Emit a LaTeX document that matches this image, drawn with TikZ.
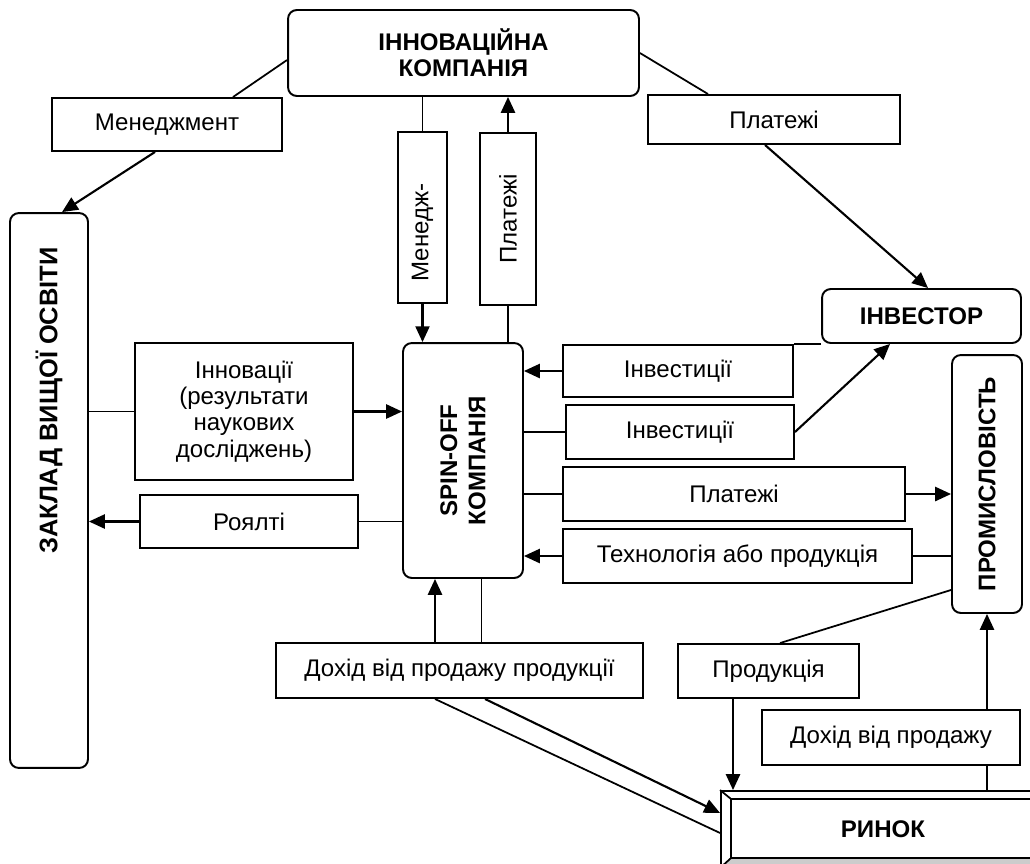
\documentclass[tikz,border=0pt]{standalone}
\usepackage{fontspec}
\setmainfont{Liberation Sans}
\usetikzlibrary{arrows.meta}

\begin{document}
\begin{tikzpicture}[x=0.02cm,y=-0.02cm]

\tikzset{Box/.style={draw,line width=1.1pt,inner sep=2pt,align=center,font=\fontsize{13.7}{15}\selectfont},
RBox/.style={Box,rounded corners=5pt,font=\fontsize{13.7}{15}\selectfont\bfseries},
VText/.style={rotate=90,align=center,font=\fontsize{13.7}{15}\selectfont},
VBold/.style={VText,font=\fontsize{13.7}{16}\selectfont\bfseries},
Line/.style={line width=1pt},
Arrow/.style={line width=1.2pt,-{Triangle[length=9pt,width=8pt]}}}

\useasboundingbox (0,0) rectangle (1030,863);
\clip (0,0) rectangle (1030,863);

\node[RBox,minimum width=7.02cm,minimum height=1.72cm] (IK) at (463.5,53) {ІННОВАЦІЙНА\\КОМПАНІЯ};
\node[Box,minimum width=4.6cm,minimum height=1.06cm] (MEN) at (167,124.5) {Менеджмент};
\node[RBox,minimum width=1.56cm,minimum height=11.1cm,label={[yshift=1.8cm,VBold,font=\fontsize{14.5}{16}\selectfont\bfseries]center:ЗАКЛАД ВИЩОЇ ОСВІТИ}] (ZVO) at (49,490.5) {};
\node[Box,minimum width=0.98cm,minimum height=3.42cm,label={[yshift=-0.3cm,VText]center:Менедж-}] (MENV) at (422.5,217.5) {};
\node[Box,minimum width=1.12cm,minimum height=3.44cm,label={[VText]center:Платежі}] (PLV) at (508,219) {};
\node[Box,minimum width=5.04cm,minimum height=0.98cm] (PLR) at (774,119.5) {Платежі};
\node[RBox,minimum width=3.98cm,minimum height=1.08cm] (INV) at (921.5,316) {ІНВЕСТОР};
\node[RBox,minimum width=2.4cm,minimum height=4.7cm,label={[VBold]center:SPIN-OFF\\КОМПАНІЯ}] (SO) at (463,460.5) {};
\node[Box,minimum width=4.6cm,minimum height=1.04cm] (INV_1) at (678,371) {Інвестиції};
\node[Box,minimum width=4.56cm,minimum height=1.08cm] (INV_2) at (680,432) {Інвестиції};
\node[Box,minimum width=6.84cm,minimum height=1.08cm] (PL) at (734,494) {Платежі};
\node[Box,minimum width=6.98cm,minimum height=1.08cm] (TECH) at (737.5,556) {Технологія або продукція};
\node[RBox,minimum width=1.4cm,minimum height=5.16cm,label={[VBold]center:ПРОМИСЛОВІСТЬ}] (PROM) at (987,484) {};
\node[Box,minimum width=4.36cm,minimum height=2.74cm] (INN) at (244,411.5) {Інновації\\(результати\\наукових\\досліджень)};
\node[Box,minimum width=4.36cm,minimum height=1.06cm] (ROY) at (249,521.5) {Роялті};
\node[Box,minimum width=7.34cm,minimum height=1.1cm] (DPP) at (459.5,670.5) {Дохід від продажу продукції};
\node[Box,minimum width=3.62cm,minimum height=1.08cm] (PROD) at (768.5,671) {Продукція};
\node[Box,minimum width=5.16cm,minimum height=1.1cm] (DP) at (891,737.5) {Дохід від продажу};
\node[Box,font=\fontsize{13.7}{15}\selectfont\bfseries,minimum width=6.48cm,minimum height=1.52cm] (RYN) at (883,829) {РИНОК};

\draw[Line,fill=gray!40] (RYN.south west) -- ([shift={(0.22cm,0.2cm)}]RYN.south west) -- ([shift={(-0.22cm,0.2cm)}]RYN.south east) -- (RYN.south east) -- cycle;
\draw[Line] ([shift={(0.22cm,-0.18cm)}]RYN.north west) rectangle ([shift={(-0.22cm,0.2cm)}]RYN.south east);
\draw[Line] (RYN.north west) -- ([shift={(0.22cm,-0.18cm)}]RYN.north west);

\draw[Line] ([yshift=-0.14cm]IK.west) -- ([xshift=1.32cm]MEN.north);
\draw[Arrow] ([xshift=-0.24cm]MEN.south) -- ([xshift=0.26cm]ZVO.north);
\draw[Line] (MENV.north) -- (MENV.north |- IK.south);
\draw[Arrow] (MENV.south) -- (MENV.south |- SO.north);
\draw[Arrow] (PLV.north) -- (PLV.north |- IK.south);
\draw[Line] (PLV.south) -- (PLV.south |- SO.north);
\draw[Line] (IK.east) -- ([xshift=-1.32cm]PLR.north);
\draw[Arrow] ([xshift=-0.18cm]PLR.south) -- ([xshift=0.13cm]INV.north);
\draw[Arrow] (INV_1.west) -- (INV_1.west -| SO.east);
\draw[Line] (INV.south west) -- (INV.south west -| INV_1.east);
\draw[Line] (INV_2.west) -- (INV_2.west -| SO.east);
\draw[Arrow] (INV_2.east) -- ([xshift=-0.63cm]INV.south);
\draw[Line] (PL.west) -- (PL.west -| SO.east);
\draw[Arrow] (PL.east) -- (PL.east -| PROM.west);
\draw[Line] (TECH.east) -- (TECH.east -| PROM.west);
\draw[Arrow] (TECH.west) -- (TECH.west -| SO.east);
\draw[Line] (INN.west) -- (INN.west -| ZVO.east);
\draw[Arrow] (INN.east) -- (INN.east -| SO.west);
\draw[Line] (ROY.east) -- (ROY.east -| SO.west);
\draw[Arrow] (ROY.west) -- (ROY.west -| ZVO.east);
\draw[Arrow] ([xshift=-0.49cm]DPP.north) -- ([xshift=-0.49cm]DPP.north |- SO.south);
\draw[Line] ([xshift=0.44cm]DPP.north) -- ([xshift=0.44cm]DPP.north |- SO.south);
\draw[Line] ([xshift=-0.49cm]DPP.south) -- ([yshift=-0.08cm]RYN.west);
\draw[Arrow] ([xshift=0.51cm]DPP.south) -- ([yshift=0.32cm]RYN.west);
\draw[Line] ([yshift=-2.12cm]PROM.west) -- ([xshift=0.23cm]PROD.north);
\draw[Arrow] ([xshift=-0.71cm]PROD.south) -- ([xshift=-0.71cm]PROD.south |- RYN.north);
\draw[Arrow] (DP.north -| PROM.south) -- (PROM.south);
\draw[Line] (RYN.north -| PROM.south) -- (DP.south -| PROM.south);

\end{tikzpicture}
\end{document}
